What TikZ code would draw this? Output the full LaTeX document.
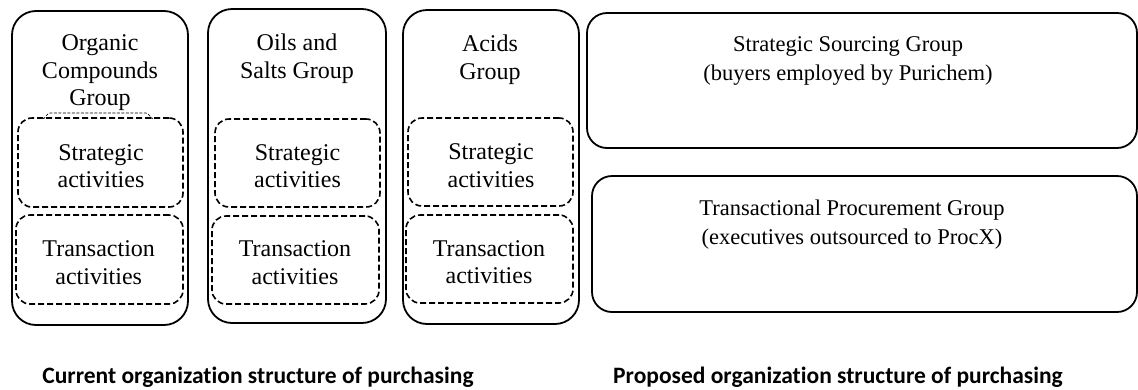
\documentclass[tikz,border=0pt]{standalone}
\usepackage{fontspec}
\setmainfont{Liberation Serif}
\newfontfamily\titlefont[Ligatures=NoCommon]{Carlito}
\begin{document}
\begin{tikzpicture}[x=1pt,y=-1pt,
  group/.style={draw,line width=1.8pt,rounded corners=24pt,inner sep=0pt},
  wide/.style={draw,line width=1.8pt,rounded corners=20pt,inner sep=0pt},
  activity/.style={draw,line width=1.6pt,dash pattern=on 6pt off 3pt,rounded corners=14pt,inner sep=0pt},
  txt/.style={align=center,font=\fontsize{24}{27.5}\selectfont,inner sep=0pt},
  rtxt/.style={align=center,font=\fontsize{22.5}{28.5}\selectfont,inner sep=0pt},
  title/.style={anchor=base,font=\titlefont\bfseries\fontsize{23.5}{28}\selectfont,inner sep=0pt}]
\useasboundingbox (0,0) rectangle (1138,389);

% current structure
\node[group,minimum width=176pt,minimum height=314pt] (g1) at (100,168) {};
\node[group,minimum width=178pt,minimum height=314pt] (g2) at (297,166) {};
\node[group,minimum width=176pt,minimum height=314pt] (g3) at (491,167) {};

\node[activity,minimum width=165pt,minimum height=89pt] (s1) at (100.5,162.5) {};
\node[activity,minimum width=167pt,minimum height=89pt] (t1) at (99.5,259.5) {};
\node[activity,minimum width=165pt,minimum height=88pt] (s2) at (297.5,163) {};
\node[activity,minimum width=167pt,minimum height=88pt] (t2) at (295.5,260) {};
\node[activity,minimum width=165pt,minimum height=88pt] (s3) at (490.5,162) {};
\node[activity,minimum width=167pt,minimum height=88pt] (t3) at (489.5,259) {};

\draw[line width=0.6pt,dash pattern=on 3pt off 1.5pt] (43,118) to[out=-80,in=180] (50,113) -- (146,113) to[out=0,in=-100] (153,118);

\node[txt] (g1t) at (100,73) {Organic\\Compounds\\Group};
\node[txt] (g2t) at (297,58.5) {Oils and\\Salts Group};
\node[txt] (g3t) at (490,59.5) {Acids\\Group};

\node[txt] (s1t) at (101,166) {Strategic\\activities};
\node[txt] (t1t) at (98.7,262.5) {Transaction\\activities};
\node[txt] (s2t) at (297.5,166) {Strategic\\activities};
\node[txt] (t2t) at (295,262.5) {Transaction\\activities};
\node[txt] (s3t) at (491,165.5) {Strategic\\activities};
\node[txt] (t3t) at (489,262) {Transaction\\activities};

% proposed structure
\node[wide,minimum width=550pt,minimum height=135pt] (r1) at (862,80.5) {};
\node[wide,minimum width=545pt,minimum height=136pt] (r2) at (864.5,244) {};
\node[rtxt] (r1t) at (848,61) {Strategic Sourcing Group\\(buyers employed by Purichem)};
\node[rtxt] (r2t) at (852,224.5) {Transactional Procurement Group\\(executives outsourced to ProcX)};

\node[title] (c) at (258,383) {Current organization structure of purchasing};
\node[title] (p) at (838,383) {Proposed organization structure of purchasing};
\end{tikzpicture}
\end{document}
